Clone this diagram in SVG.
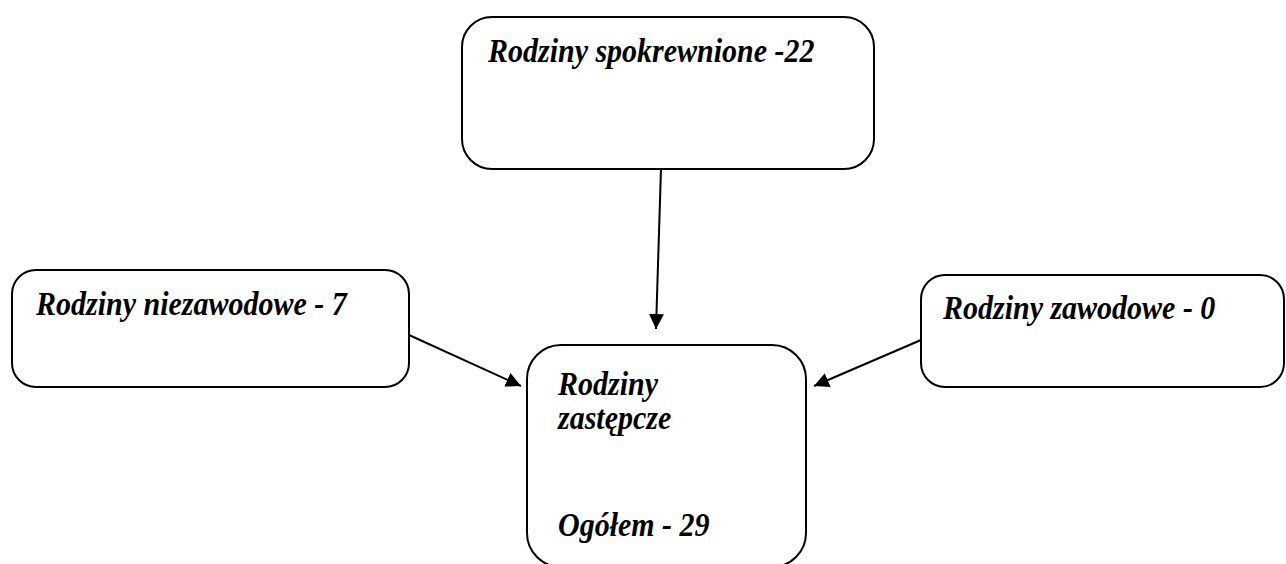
<svg xmlns="http://www.w3.org/2000/svg" width="1286" height="564" viewBox="0 0 1286 564">
  <style>
    .box { fill: #ffffff; stroke: #000000; stroke-width: 2; }
    .lbl { font-family: "Liberation Serif", "Times New Roman", serif; font-weight: bold; font-style: italic; font-size: 30px; fill: #000000; }
    .conn { stroke: #000000; stroke-width: 2; fill: none; }
  </style>
  <defs>
    <marker id="arrow" viewBox="0 0 10 10" refX="10" refY="5" markerWidth="7.5" markerHeight="7.5" markerUnits="strokeWidth" orient="auto">
      <path d="M0,0 L10,5 L0,10 Z" fill="#000000"/>
    </marker>
  </defs>
  <rect width="1286" height="564" fill="#ffffff"/>
  <g id="node-spokrewnione">
    <rect class="box" x="462" y="17" width="412" height="152" rx="30" ry="30"/>
    <text class="lbl" transform="translate(488,62) scale(1,1.1)">Rodziny spokrewnione -22</text>
  </g>
  <g id="node-niezawodowe">
    <rect class="box" x="12" y="270" width="397" height="117" rx="24" ry="24"/>
    <text class="lbl" transform="translate(36,315) scale(1,1.1)">Rodziny niezawodowe - 7</text>
  </g>
  <g id="node-zawodowe">
    <rect class="box" x="921" y="275" width="363" height="112" rx="24" ry="24"/>
    <text class="lbl" transform="translate(943,319) scale(1,1.1)">Rodziny zawodowe - 0</text>
  </g>
  <g id="node-zastepcze">
    <rect class="box" x="527" y="345" width="279" height="222" rx="34" ry="34"/>
    <text class="lbl" transform="translate(558,395) scale(1,1.1)">Rodziny</text>
    <text class="lbl" transform="translate(558,429) scale(1,1.1)">zastępcze</text>
    <text class="lbl" transform="translate(558,536) scale(1,1.1)">Ogółem - 29</text>
  </g>
  <g id="connectors">
    <line class="conn" x1="661" y1="169" x2="656" y2="329" marker-end="url(#arrow)"/>
    <line class="conn" x1="409" y1="335" x2="521" y2="386" marker-end="url(#arrow)"/>
    <line class="conn" x1="921" y1="340" x2="814" y2="386" marker-end="url(#arrow)"/>
  </g>
</svg>
